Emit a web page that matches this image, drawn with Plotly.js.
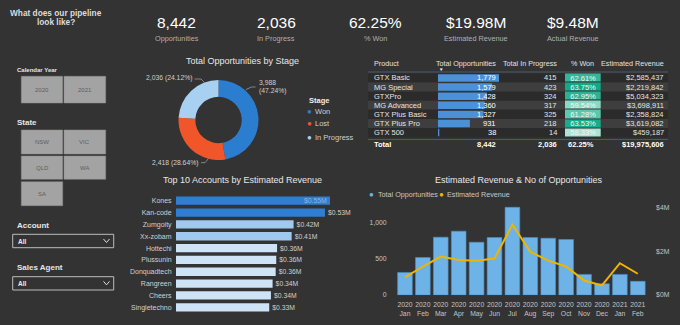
<!DOCTYPE html>
<html><head><meta charset="utf-8">
<script src="https://cdn.plot.ly/plotly-3.0.1.min.js"></script>
<style>html,body{margin:0;padding:0;background:#333333;}#chart{width:680px;height:325px;}</style>
</head><body><div id="chart"></div>
<script>
// ---------------- DATA ----------------
const kpiLabels = ['Opportunities','In Progress','% Won','Estimated Revenue','Actual Revenue'];
const kpiValues = ['8,442','2,036','62.25%','$19.98M','$9.48M'];

const stageLabels = ['Won','Lost','In Progress'];
const stageValues = [3988, 2418, 2036];

const accounts = ['Kones','Kan-code','Zumgoity','Xx-zobam','Hottechi','Plussunin','Donquadtech','Rangreen','Cheers','Singletechno'];
const accountRevenue = [0.55, 0.532, 0.42, 0.413, 0.361, 0.358, 0.356, 0.345, 0.339, 0.333]; // $M

const products = ['GTX Basic','MG Special','GTXPro','MG Advanced','GTX Plus Basic','GTX Plus Pro','GTX 500'];
const productOpps = [1779, 1579, 1428, 1360, 1327, 931, 38];
const productInProgress = [415, 423, 324, 317, 325, 218, 14];
const productWonPct = [62.61, 63.75, 62.95, 59.54, 61.28, 63.53, 58.33];
const productRevenue = [2585437, 2219842, 5034323, 3698911, 2358824, 3619082, 459187];
const totalWonPct = 62.25;
const tableHeaders = ['Product','Total Opportunities','Total In Progress','% Won','Estimated Revenue'];

const monthLabels = ['2020<br>Jan','2020<br>Feb','2020<br>Mar','2020<br>Apr','2020<br>May','2020<br>Jun','2020<br>Jul','2020<br>Aug','2020<br>Sep','2020<br>Oct','2020<br>Nov','2020<br>Dec','2021<br>Jan','2021<br>Feb'];
const monthlyOpps = [312, 519, 799, 882, 730, 795, 1212, 795, 785, 767, 285, 156, 285, 189];
const monthlyRevenue = [0.80, 1.30, 1.75, 1.60, 1.56, 1.66, 3.21, 1.97, 1.57, 1.30, 0.66, 0.44, 1.45, 0.97]; // $M
const oppTicks = [0, 500, 1000];
const revTicks = [0, 2, 4];

const years = ['2020','2021'];
const states = ['NSW','VIC','QLD','WA','SA'];

// ---------------- HELPERS ----------------
const W = 680, H = 325;
const X = p => p / W, Y = p => 1 - p / H;
const FONT = 'Liberation Sans, Arial, sans-serif';
const ann = [], shapes = [];
function txt(text, x, y, size, color, xanchor, extra) {
  ann.push(Object.assign({
    text, x: X(x), y: Y(y), xref: 'paper', yref: 'paper', showarrow: false,
    xanchor: xanchor || 'center', yanchor: 'middle',
    font: {family: FONT, size: size, color: color}
  }, extra || {}));
}
function rect(x0, y0, x1, y1, fill, line, lw) {
  shapes.push({type: 'rect', xref: 'paper', yref: 'paper', x0: X(x0), x1: X(x1), y0: Y(y0), y1: Y(y1),
    fillcolor: fill, line: {color: line || fill, width: lw === undefined ? 0 : lw}, layer: 'below'});
}
function path(pts, color, w) {
  const d = pts.map((p, i) => (i ? 'L ' : 'M ') + X(p[0]) + ' ' + Y(p[1])).join(' ');
  shapes.push({type: 'path', xref: 'paper', yref: 'paper', path: d, line: {color: color, width: w || 1}});
}
const fmt = v => v.toLocaleString('en-US');
const sum = a => a.reduce((s, v) => s + v, 0);

// ---------------- LEFT PANEL ----------------
txt('<b>What does our pipeline</b>', 56, 13, 8.3, '#dcdcdc');
txt('<b>look like?</b>', 56, 22.5, 8.3, '#dcdcdc');
txt('<b>Calendar Year</b>', 15, 70.5, 6, '#e6e6e6', 'left');
const btnCols = [[21.3, 62.7], [64, 105.7]];
years.forEach((y, i) => {
  rect(btnCols[i][0], 76.3, btnCols[i][1], 103, '#a3a3a3', '#8c8c8c', 0.5);
  txt(y, (btnCols[i][0] + btnCols[i][1]) / 2, 89.7, 6, '#5e5e5e');
});
txt('<b>State</b>', 15, 123, 8, '#e6e6e6', 'left');
const stateRows = [[130, 154], [156, 179.3], [181.7, 205.7]];
states.forEach((s, i) => {
  const c = btnCols[i % 2], r = stateRows[Math.floor(i / 2)];
  rect(c[0], r[0], c[1], r[1], '#a3a3a3', '#8c8c8c', 0.5);
  txt(s, (c[0] + c[1]) / 2, (r[0] + r[1]) / 2, 6, '#5e5e5e');
});
[['Account', 225.7, 234.3, 247.7], ['Sales Agent', 267.7, 276.7, 290]].forEach(d => {
  txt('<b>' + d[0] + '</b>', 15, d[1], 8, '#e6e6e6', 'left');
  rect(12.7, d[2], 113.7, d[3], '#333333', '#bdbdbd', 1);
  txt('<b>All</b>', 16, (d[2] + d[3]) / 2, 6.5, '#eeeeee', 'left');
  const cy = (d[2] + d[3]) / 2;
  path([[103.5, cy - 2], [106.5, cy + 1.5], [109.5, cy - 2]], '#dddddd', 1);
});

// ---------------- KPIs ----------------
const kpiX = [176.7, 276, 375, 476, 572.7];
kpiValues.forEach((v, i) => {
  txt(v, kpiX[i], 22.7, 15.5, '#ffffff');
  txt(kpiLabels[i], kpiX[i], 38.3, 7.3, '#b0b0b0');
});

// ---------------- TITLES ----------------
txt('Total Opportunities by Stage', 242.7, 60.7, 9, '#e8e8e8');
txt('Top 10 Accounts by Estimated Revenue', 242.7, 180, 9, '#e8e8e8');
txt('Estimated Revenue & No of Opportunities', 519.3, 179.7, 9, '#e8e8e8');

// ---------------- DONUT ----------------
const stageColors = ['#2b7dcf', '#f0562a', '#a8d1f1'];
const stageTotal = sum(stageValues);
const pct = v => (v / stageTotal * 100).toFixed(2) + '%';
txt(fmt(stageValues[0]), 257, 82.7, 6.8, '#cfcfcf', 'left');
txt('(' + pct(stageValues[0]) + ')', 257, 91.3, 6.8, '#cfcfcf', 'left');
txt(fmt(stageValues[2]) + ' (' + pct(stageValues[2]) + ')', 193.5, 78.5, 6.8, '#cfcfcf', 'right');
txt(fmt(stageValues[1]) + ' (' + pct(stageValues[1]) + ')', 200, 162.7, 6.8, '#cfcfcf', 'right');
path([[246, 89.5], [251.5, 87], [255.5, 87]], '#9a9a9a', 0.8);
path([[194.5, 79], [201, 79], [204.5, 82.5]], '#9a9a9a', 0.8);
path([[201, 162.7], [205, 162.7], [208.5, 158.5]], '#9a9a9a', 0.8);
// legend
txt('<b>Stage</b>', 306.5, 100, 7.5, '#eeeeee', 'left');
const legY = [111, 123.7, 137];
stageLabels.forEach((s, i) => {
  txt('●', 309.3, legY[i], 8, stageColors[i]);
  txt(s, 313, legY[i], 7.5, '#cfcfcf', 'left');
});

// ---------------- TABLE ----------------
const tL = 368, tR = 668;
const headerY = 63.3;
txt(tableHeaders[0], 372, headerY, 7.2, '#e2e2e2', 'left');
txt(tableHeaders[1], 498, headerY, 7.2, '#e2e2e2', 'right');
txt(tableHeaders[2], 559, headerY, 7.2, '#e2e2e2', 'right');
txt(tableHeaders[3], 596, headerY, 7.2, '#e2e2e2', 'right');
txt(tableHeaders[4], 666, headerY, 7.2, '#e2e2e2', 'right');
txt('▼', 441, 69.2, 4.5, '#ffffff');
products.forEach((p, i) => {
  shapes.push({type: 'rect', xref: 'paper', yref: 'y2', x0: X(tL), x1: X(tR), y0: i - 0.5, y1: i + 0.5,
    fillcolor: i % 2 ? '#3e3e3e' : '#2b2b2b', line: {width: 0}, layer: 'below'});
  const rowAnn = (t, x, anchor, color) => ann.push({text: t, x: X(x), xref: 'paper', y: p, yref: 'y2',
    showarrow: false, xanchor: anchor, yanchor: 'middle', font: {family: FONT, size: 7.5, color: color}});
  rowAnn(p, 372, 'left', '#e4e4e4');
  rowAnn(fmt(productOpps[i]), 498, 'right', '#ffffff');
  rowAnn(fmt(productInProgress[i]), 559, 'right', '#e4e4e4');
  rowAnn('$' + fmt(productRevenue[i]), 666, 'right', '#e4e4e4');
});
path([[tL, 72], [tR, 72]], '#4a5a6b', 1);
path([[tL, 139.5], [tR, 139.5]], '#4a5a6b', 1);
const totY = 144.3;
txt('<b>Total</b>', 372, totY, 7.5, '#ffffff', 'left');
txt('<b>' + fmt(sum(productOpps)) + '</b>', 498, totY, 7.5, '#ffffff', 'right');
txt('<b>' + fmt(sum(productInProgress)) + '</b>', 559, totY, 7.5, '#ffffff', 'right');
txt('<b>' + totalWonPct.toFixed(2) + '%</b>', 596, totY, 7.5, '#ffffff', 'right');
txt('<b>$' + fmt(sum(productRevenue)) + '</b>', 666, totY, 7.5, '#ffffff', 'right');

// ---------------- COMBO LEGEND ----------------
const oppColor = '#6db3e8', revColor = '#f2b400';
txt('●', 371.5, 194.3, 8, oppColor);
txt('Total Opportunities', 375.5, 194.3, 7.2, '#c8c8c8', 'left');
txt('●', 441, 194.3, 8, revColor);
txt('Estimated Revenue', 445, 194.3, 7.2, '#c8c8c8', 'left');

// ---------------- TRACES ----------------
const maxAcc = Math.max(...accountRevenue);
const traces = [
  {
    type: 'pie', labels: stageLabels, values: stageValues, sort: false, direction: 'clockwise', rotation: 0,
    hole: 0.58, marker: {colors: stageColors, line: {width: 0}}, textinfo: 'none', hoverinfo: 'skip',
    domain: {x: [X(178.5), X(258.5)], y: [Y(160), Y(80)]}
  },
  {
    type: 'bar', orientation: 'h', x: accountRevenue, y: accounts, xaxis: 'x', yaxis: 'y', width: 0.7,
    marker: {color: accountRevenue, cmin: Math.min(...accountRevenue), cmax: maxAcc,
      colorscale: [[0, '#cfe3f7'], [0.3, '#cfe3f7'], [0.3, '#9fc9ef'], [0.75, '#9fc9ef'], [0.75, '#2e7fd1'], [1, '#2e7fd1']],
      line: {width: 0}},
    texttemplate: '$%{x:.2f}M',
    textposition: accountRevenue.map(v => v === maxAcc ? 'inside' : 'outside'),
    insidetextanchor: 'end', cliponaxis: false, constraintext: 'none',
    insidetextfont: {family: FONT, size: 6.8, color: '#86b6e8'},
    outsidetextfont: {family: FONT, size: 6.8, color: '#cfcfcf'},
    hoverinfo: 'skip'
  },
  {
    type: 'bar', orientation: 'h', x: productOpps, y: products, xaxis: 'x2', yaxis: 'y2', width: 0.82,
    marker: {color: '#4b91d8', line: {width: 0}}, hoverinfo: 'skip'
  },
  {
    type: 'heatmap', x: [tableHeaders[3]], y: products, z: productWonPct.map(v => [v]), xaxis: 'x3', yaxis: 'y2',
    zmin: Math.min(...productWonPct), zmax: Math.max(...productWonPct), showscale: false, ygap: 1,
    colorscale: [[0, '#abe4d5'], [0.5, '#62cbb1'], [1, '#12a987']],
    texttemplate: '%{z:.2f}%', textfont: {family: FONT, size: 7.5, color: '#f4f4f4'}, hoverinfo: 'skip'
  },
  {
    type: 'bar', x: monthLabels, y: monthlyOpps, xaxis: 'x4', yaxis: 'y4', width: 0.82,
    marker: {color: oppColor, line: {color: '#4f8fc4', width: 0.6}}, hoverinfo: 'skip'
  },
  {
    type: 'scatter', mode: 'lines', x: monthLabels, y: monthlyRevenue, xaxis: 'x4', yaxis: 'y5',
    line: {color: revColor, width: 2}, hoverinfo: 'skip'
  }
];

const hidden = {visible: false, fixedrange: true};
const axFont = {family: FONT, size: 6.8, color: '#c4c4c4'};
const layout = {
  width: W, height: H, margin: {l: 0, r: 0, t: 0, b: 0, pad: 0},
  paper_bgcolor: '#333333', plot_bgcolor: 'rgba(0,0,0,0)', showlegend: false,
  font: {family: FONT, color: '#cccccc'},
  xaxis: Object.assign({domain: [X(176), X(344)], range: [0, 0.6], anchor: 'y'}, hidden),
  yaxis: {domain: [Y(313.2), Y(194.8)], anchor: 'x', type: 'category', autorange: 'reversed',
    showgrid: false, zeroline: false, showline: false, ticks: 'outside', ticklen: 2, tickcolor: 'rgba(0,0,0,0)',
    tickfont: {family: FONT, size: 7, color: '#d0d0d0'}},
  xaxis2: Object.assign({domain: [X(438), X(499)], range: [0, Math.max(...productOpps)], anchor: 'y2'}, hidden),
  yaxis2: Object.assign({domain: [Y(139.1), Y(71.5)], type: 'category', autorange: 'reversed', anchor: 'x2'}, hidden),
  xaxis3: Object.assign({domain: [X(565), X(600.7)], range: [-0.5, 0.5], type: 'category', anchor: 'y2'}, hidden),
  xaxis4: {domain: [X(396), X(646.75)], anchor: 'y4', type: 'category', range: [-0.5, 13.5],
    showgrid: false, zeroline: false, showline: false, ticks: 'outside', ticklen: 3, tickcolor: 'rgba(0,0,0,0)',
    tickfont: axFont},
  yaxis4: {domain: [Y(295.3), Y(205)], anchor: 'x4', side: 'left', range: [-4, 1244], tickmode: 'array',
    tickvals: oppTicks, ticktext: oppTicks.map(fmt), ticklabeloverflow: 'allow',
    showgrid: false, zeroline: false, showline: false, ticks: 'outside', ticklen: 7, tickcolor: 'rgba(0,0,0,0)',
    tickfont: axFont},
  yaxis5: {overlaying: 'y4', anchor: 'x4', side: 'right', range: [-0.013, 4.105], tickmode: 'array',
    tickvals: revTicks, ticktext: revTicks.map(v => '$' + v + 'M'), ticklabeloverflow: 'allow',
    showgrid: false, zeroline: false, showline: false, ticks: 'outside', ticklen: 7, tickcolor: 'rgba(0,0,0,0)',
    tickfont: axFont},
  annotations: ann, shapes: shapes
};
Plotly.newPlot('chart', traces, layout, {staticPlot: true, displayModeBar: false});
</script></body></html>
